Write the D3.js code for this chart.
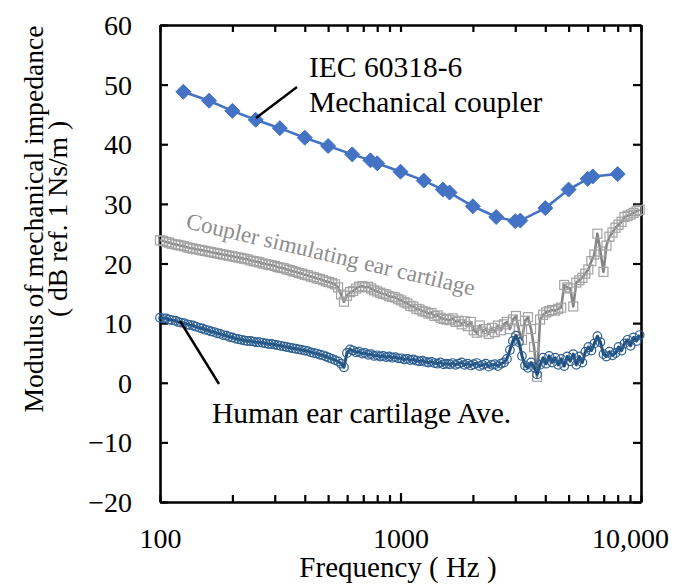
<!DOCTYPE html>
<html>
<head>
<meta charset="utf-8">
<script src="https://cdn.jsdelivr.net/npm/d3@7"></script>
<style>
  html, body { margin: 0; padding: 0; background: #fff; }
  svg { display: block; }
</style>
</head>
<body>
<svg id="chart" width="674" height="586"></svg>
<script>
// ---- Data ----------------------------------------------------------------
// IEC 60318-6 mechanical coupler (dB ref. 1 Ns/m)
const couplerFreq = [125, 160, 200, 250, 315, 400, 500, 630, 750, 800, 1000, 1250, 1500, 1600,
                     2000, 2500, 3000, 3150, 4000, 5000, 6000, 6300, 8000];
const couplerValue = [48.8, 47.3, 45.6, 44.1, 42.7, 41.1, 39.7, 38.3, 37.3, 36.8, 35.4, 33.9, 32.4, 31.9,
                      29.6, 27.8, 27.1, 27.2, 29.3, 32.4, 34.2, 34.6, 35.0];

// 1/24-octave frequency grid of the measured curves (Hz)
const measFreq = [
  100, 103, 106, 109, 112, 116, 119, 122, 126, 130, 133, 137, 141, 146, 150, 154, 159, 163, 168, 173, 178, 183, 189, 194,
  200, 206, 212, 218, 224, 231, 238, 245, 252, 259, 267, 275, 283, 291, 300, 308, 317, 327, 336, 346, 356, 367, 378, 389,
  400, 412, 424, 436, 449, 462, 476, 490, 504, 519, 534, 550, 566, 582, 599, 617, 635, 654, 673, 693, 713, 734, 755, 777,
  800, 823, 848, 872, 898, 924, 951, 979, 1008, 1038, 1068, 1099, 1131, 1165, 1199, 1234, 1270, 1307, 1345, 1385, 1425, 1467, 1510, 1554,
  1600, 1647, 1695, 1745, 1796, 1848, 1903, 1959, 2016, 2075, 2136, 2198, 2263, 2329, 2397, 2467, 2540, 2614, 2691, 2770, 2851, 2934, 3020, 3109,
  3200, 3294, 3390, 3490, 3592, 3697, 3805, 3917, 4032, 4150, 4272, 4397, 4525, 4658, 4795, 4935, 5080, 5229, 5382, 5540, 5702, 5869, 6041, 6218,
  6400, 6588, 6781, 6980, 7184, 7395, 7611, 7834, 8064, 8300, 8543, 8794, 9051, 9317, 9590, 9871
];

// Coupler simulating ear cartilage
const simValue = [
  23.9, 23.8, 23.6, 23.5, 23.3, 23.2, 23.1, 23.0, 22.9, 22.7, 22.6, 22.5, 22.4, 22.3, 22.2, 22.1, 22.0, 21.9, 21.8, 21.7, 21.6, 21.5, 21.4, 21.3,
  21.2, 21.1, 21.0, 20.9, 20.8, 20.7, 20.5, 20.4, 20.3, 20.2, 20.0, 19.9, 19.8, 19.7, 19.6, 19.4, 19.3, 19.2, 19.0, 18.9, 18.7, 18.6, 18.4, 18.3,
  18.1, 18.0, 17.8, 17.7, 17.5, 17.4, 17.2, 17.0, 16.9, 16.7, 16.5, 16.0, 14.8, 13.6, 14.6, 15.2, 15.4, 15.8, 16.1, 16.2, 16.0, 16.1, 15.8, 15.5,
  15.3, 15.1, 14.9, 14.8, 14.5, 14.4, 14.3, 14.0, 13.8, 13.5, 13.3, 12.9, 12.8, 12.4, 12.3, 12.0, 11.9, 11.6, 11.7, 11.2, 11.3, 10.9, 10.7, 10.6,
  10.5, 10.8, 10.2, 10.4, 9.8, 10.3, 9.5, 10.2, 8.8, 8.4, 9.6, 8.6, 9.0, 8.2, 9.2, 8.5, 9.6, 8.8, 9.8, 10.2, 9.0, 10.6, 11.2, 8.8,
  7.2, 10.4, 11.0, 9.0, 6.0, 1.0, 10.6, 11.4, 11.8, 12.0, 12.2, 12.1, 12.4, 12.6, 16.4, 16.0, 15.8, 12.8, 16.8, 17.2, 17.6, 18.3, 19.0, 20.4,
  21.5, 25.0, 22.0, 18.6, 23.0, 24.5, 25.2, 26.0, 26.5, 27.0, 27.8, 28.0, 28.2, 28.5, 28.8, 29.0
];

// Human ear cartilage, average
const humanValue = [
  10.9, 10.8, 10.8, 10.6, 10.5, 10.4, 10.2, 10.1, 10.0, 9.8, 9.7, 9.6, 9.4, 9.2, 9.1, 8.9, 8.8, 8.6, 8.5, 8.3, 8.2, 8.0, 7.9, 7.7,
  7.6, 7.4, 7.3, 7.2, 7.1, 7.0, 7.0, 6.9, 6.8, 6.8, 6.7, 6.6, 6.5, 6.5, 6.4, 6.3, 6.2, 6.1, 6.0, 5.9, 5.8, 5.7, 5.6, 5.5,
  5.4, 5.3, 5.1, 5.0, 4.9, 4.7, 4.6, 4.4, 4.2, 4.0, 3.8, 3.6, 3.2, 2.6, 5.0, 5.6, 5.4, 5.1, 5.2, 4.9, 5.0, 4.7, 4.8, 4.5,
  4.6, 4.4, 4.5, 4.3, 4.4, 4.2, 4.3, 4.1, 4.1, 3.9, 4.0, 3.8, 3.9, 3.7, 3.6, 3.7, 3.5, 3.4, 3.5, 3.3, 3.2, 3.4, 3.1, 3.2,
  3.1, 3.3, 3.0, 3.2, 3.4, 3.0, 3.2, 2.9, 3.1, 3.3, 2.8, 3.0, 3.2, 2.7, 3.0, 3.1, 2.8, 3.2, 3.4, 4.0, 5.5, 7.0, 7.9, 6.8,
  4.5, 2.9, 2.5, 3.4, 2.6, 1.4, 3.0, 4.2, 3.2, 4.5, 3.4, 4.2, 3.0, 4.0, 2.8, 4.4, 3.6, 4.8, 3.0, 4.4, 3.4, 5.2, 6.0, 5.4,
  6.6, 7.8, 6.8, 4.8, 4.4, 5.2, 4.6, 5.0, 6.0, 5.4, 6.6, 7.2, 6.2, 7.6, 7.0, 8.0
];

// Axis ticks and labels
const yTicks = [-20, -10, 0, 10, 20, 30, 40, 50, 60];
const xTicks = [100, 200, 300, 400, 500, 600, 700, 800, 900,
                1000, 2000, 3000, 4000, 5000, 6000, 7000, 8000, 9000, 10000];
const xTickLabels = { 100: "100", 1000: "1000", 10000: "10,000" };

// ---- Layout ----------------------------------------------------------------
const serif = "Liberation Serif, Times New Roman, serif";
const svg = d3.select("#chart");
const plotLeft = 160, plotRight = 641, plotTop = 25, plotBottom = 502;

const x = d3.scaleLog().domain([100, 10000]).range([plotLeft, plotRight]);
const y = d3.scaleLinear().domain([-20, 60]).range([plotBottom, plotTop]);

function styleAxis(g) {
  g.attr("font-family", serif).attr("font-size", 28);
  g.select(".domain").attr("stroke", "#000").attr("stroke-width", 2.6);
  g.selectAll(".tick line").attr("stroke", "#000").attr("stroke-width", 2.2);
  g.selectAll(".tick text").attr("fill", "#000");
}

// Left axis with labels
svg.append("g")
  .attr("transform", `translate(${plotLeft},0)`)
  .call(d3.axisLeft(y).tickValues(yTicks).tickSizeInner(-8).tickSizeOuter(0).tickPadding(28))
  .call(styleAxis)
  .call(g => g.selectAll(".tick text").attr("dy", "0.34em"));

// Right axis (ticks only)
svg.append("g")
  .attr("transform", `translate(${plotRight},0)`)
  .call(d3.axisRight(y).tickValues(yTicks).tickSizeInner(-8).tickSizeOuter(0).tickFormat(""))
  .call(styleAxis);

// Bottom axis with decade labels
const bottomAxis = svg.append("g")
  .attr("transform", `translate(0,${plotBottom})`)
  .call(d3.axisBottom(x).tickValues(xTicks).tickSizeInner(-7).tickSizeOuter(0).tickPadding(26)
    .tickFormat(d => xTickLabels[d] || ""))
  .call(styleAxis);
bottomAxis.selectAll(".tick")
  .filter(d => d === 1000)
  .select("line").attr("y2", -9);
bottomAxis.selectAll(".tick")
  .filter(d => d === 10000)
  .select("text").attr("dx", -11);

// Top axis (ticks only)
svg.append("g")
  .attr("transform", `translate(0,${plotTop})`)
  .call(d3.axisTop(x).tickValues(xTicks).tickSizeInner(-7).tickSizeOuter(0).tickFormat(""))
  .call(styleAxis);

// ---- Series -----------------------------------------------------------------
const plot = svg.append("g");

const line = d3.line()
  .x(d => x(d[0]))
  .y(d => y(d[1]));

const simData = measFreq.map((f, i) => [f, simValue[i]]);
const humanData = measFreq.map((f, i) => [f, humanValue[i]]);
const couplerData = couplerFreq.map((f, i) => [f, couplerValue[i]]);

// Coupler simulating ear cartilage: grey line with open squares
plot.append("path")
  .datum(simData)
  .attr("d", line)
  .attr("fill", "none")
  .attr("stroke", "#858585")
  .attr("stroke-width", 2.6)
  .attr("stroke-linejoin", "round");
plot.append("g")
  .selectAll("rect")
  .data(simData)
  .join("rect")
  .attr("x", d => x(d[0]) - 4.5)
  .attr("y", d => y(d[1]) - 4.5)
  .attr("width", 9)
  .attr("height", 9)
  .attr("fill", "none")
  .attr("stroke", "#a3a3a3")
  .attr("stroke-width", 1.2);

// Human ear cartilage average: dark blue line with open circles
plot.append("path")
  .datum(humanData)
  .attr("d", line)
  .attr("fill", "none")
  .attr("stroke", "#1f4e79")
  .attr("stroke-width", 3)
  .attr("stroke-linejoin", "round");
plot.append("g")
  .selectAll("circle")
  .data(humanData)
  .join("circle")
  .attr("cx", d => x(d[0]))
  .attr("cy", d => y(d[1]))
  .attr("r", 4.3)
  .attr("fill", "none")
  .attr("stroke", "#2d5f92")
  .attr("stroke-width", 1.2);

// IEC 60318-6 mechanical coupler: blue line with filled diamonds
plot.append("path")
  .datum(couplerData)
  .attr("d", line)
  .attr("fill", "none")
  .attr("stroke", "#4472c4")
  .attr("stroke-width", 2.6);
const diamond = "M0,-7.5L7.5,0L0,7.5L-7.5,0Z";
plot.append("g")
  .selectAll("path")
  .data(couplerData)
  .join("path")
  .attr("d", diamond)
  .attr("transform", d => `translate(${x(d[0])},${y(d[1])})`)
  .attr("fill", "#4472c4")
  .attr("stroke", "#4472c4")
  .attr("stroke-width", 1);

// ---- Annotations ------------------------------------------------------------
const ann = svg.append("g").attr("font-family", serif);

ann.append("line")
  .attr("x1", 256).attr("y1", 118).attr("x2", 297).attr("y2", 87)
  .attr("stroke", "#000").attr("stroke-width", 2.4);
ann.append("text")
  .attr("x", 309).attr("y", 77)
  .attr("font-size", 29.5)
  .text("IEC 60318-6");
ann.append("text")
  .attr("x", 309).attr("y", 112)
  .attr("font-size", 29.5)
  .text("Mechanical coupler");

ann.append("text")
  .attr("transform", "translate(185,228) rotate(13.2)")
  .attr("font-size", 23)
  .attr("fill", "#8c8c8c")
  .text("Coupler simulating ear cartilage");

ann.append("line")
  .attr("x1", 180).attr("y1", 321).attr("x2", 219).attr("y2", 384)
  .attr("stroke", "#000").attr("stroke-width", 2.4);
ann.append("text")
  .attr("x", 212).attr("y", 423)
  .attr("font-size", 29.5)
  .text("Human ear cartilage Ave.");

// ---- Axis titles ------------------------------------------------------------
const titles = svg.append("g").attr("font-family", serif).attr("fill", "#000");

titles.append("text")
  .attr("x", 398).attr("y", 577)
  .attr("text-anchor", "middle")
  .attr("font-size", 29)
  .text("Frequency ( Hz )");

titles.append("text")
  .attr("transform", "translate(43,219) rotate(-90)")
  .attr("text-anchor", "middle")
  .attr("font-size", 27.6)
  .text("Modulus of mechanical impedance");
titles.append("text")
  .attr("transform", "translate(67,219) rotate(-90)")
  .attr("text-anchor", "middle")
  .attr("font-size", 27.6)
  .text("( dB ref. 1 Ns/m )");
</script>
</body>
</html>
